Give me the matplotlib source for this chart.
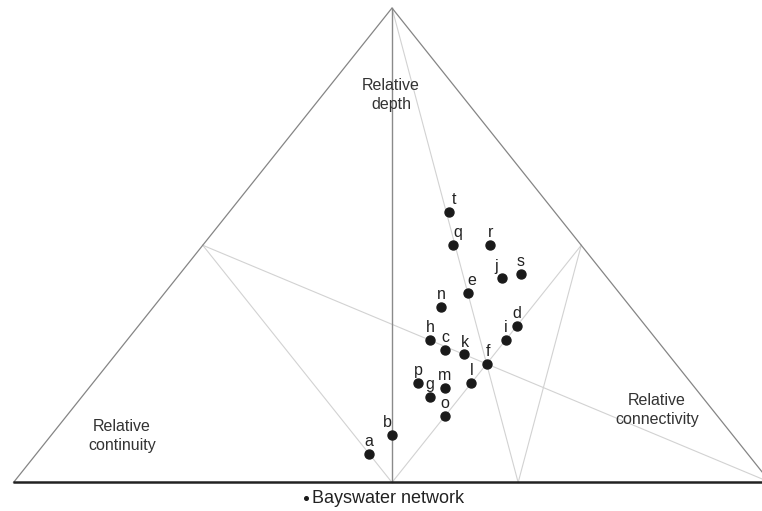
import numpy as np
import matplotlib
matplotlib.use("Agg")
import matplotlib.pyplot as plt

plt.rcParams['font.family'] = ['Liberation Sans', 'DejaVu Sans']

# ternary values per site: relative depth, continuity, connectivity
sites = ["a", "b", "c", "d", "e", "f", "g", "h", "i", "j",
         "k", "l", "m", "n", "o", "p", "q", "r", "s", "t"]
depth = [0.06, 0.10, 0.28, 0.33, 0.40, 0.25, 0.18, 0.30, 0.30, 0.43,
         0.27, 0.21, 0.20, 0.37, 0.14, 0.21, 0.50, 0.50, 0.44, 0.57]
continuity = [0.50, 0.45, 0.29, 0.17, 0.20, 0.25, 0.36, 0.30, 0.20, 0.14,
              0.27, 0.29, 0.33, 0.25, 0.36, 0.36, 0.17, 0.12, 0.11, 0.14]
connectivity = [0.44, 0.45, 0.43, 0.50, 0.40, 0.50, 0.46, 0.40, 0.50, 0.43,
                0.46, 0.50, 0.47, 0.38, 0.50, 0.43, 0.33, 0.38, 0.45, 0.29]
# small label nudges (points)
label_dx = [0, -3, 0, 0, 3, 1, 0, 0, 0, -4,
            1, 0, 0, 0, 0, 0, 4, 0, 0, 4]


def tern(d, cont, conn):
    d = np.asarray(d, float)
    conn = np.asarray(conn, float)
    return conn + d / 2, d


fig = plt.figure(figsize=(7.62, 5.11), dpi=100)
ax = fig.add_axes([0, 0, 1, 1])
ax.set_xlim(-0.01783, 0.98877)
ax.set_ylim(-0.0601, 1.01686)
ax.axis('off')

# guide lines inside the triangle (depth, continuity, connectivity)
guides = [
    [(1, 0, 0), (0, 1/3, 2/3)],
    [(0.5, 0.5, 0), (0, 0, 1)],
    [(0.5, 0, 0.5), (0, 0.5, 0.5)],
    [(0.5, 0.5, 0), (0, 0.5, 0.5)],
    [(0.5, 0, 0.5), (0, 1/3, 2/3)],
]
for g in guides:
    x, y = tern(*zip(*g))
    ax.plot(x, y, color='#d2d2d2', lw=0.8, zorder=1)

x, y = tern([1, 0], [0, 0.5], [0, 0.5])
ax.plot(x, y, color='#8a8a8a', lw=1.0, zorder=2)

# triangle sides
x, y = tern([0, 1, 0], [1, 0, 0], [0, 0, 1])
ax.plot(x, y, color='#858585', lw=0.9, zorder=2)
ax.plot([-0.001, 1.0], [0, 0], color='#222222', lw=1.8, zorder=3, solid_capstyle='butt')

px, py = tern(depth, continuity, connectivity)
ax.scatter(px, py, s=42, color='#1a1a1a', zorder=4, label='Bayswater network')
for name, xx, yy, dx in zip(sites, px, py, label_dx):
    ax.annotate(name, (xx, yy), xytext=(dx, 3.5), textcoords='offset points',
                ha='center', va='bottom', fontsize=11.5, color='#222222')

kw = dict(ha='center', va='center', fontsize=11.5, color='#333333', linespacing=1.4)
ax.text(0.4987, 0.8167, "Relative\ndepth", **kw)
ax.text(0.1433, 0.098, "Relative\ncontinuity", **kw)
ax.text(0.850, 0.1528, "Relative\nconnectivity", **kw)

fig.legend(loc='center', bbox_to_anchor=(0.503, 0.025), frameon=False,
           markerscale=0.4, handlelength=0.4, handletextpad=0.15,
           fontsize=13, labelcolor='#222222')

fig.savefig("out.png", dpi=100)
